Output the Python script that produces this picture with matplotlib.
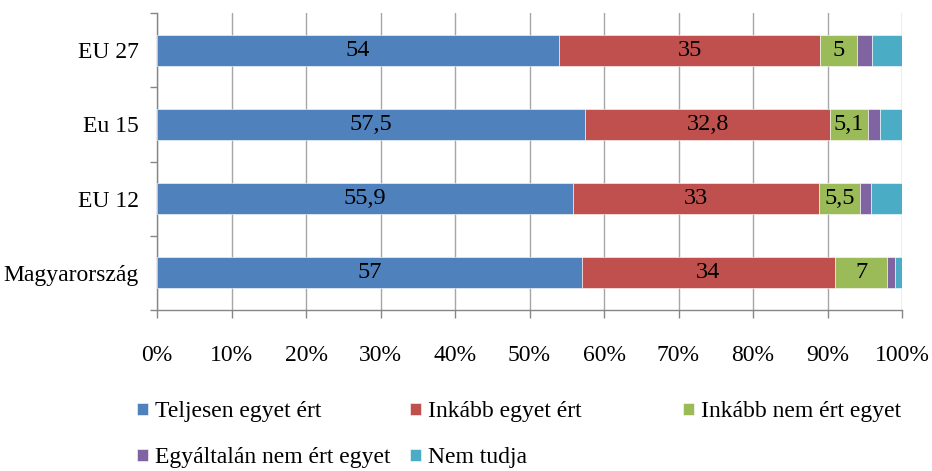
import numpy as np
import matplotlib.pyplot as plt

plt.rcParams['font.family'] = ['Liberation Serif', 'DejaVu Serif']

# Data
categories = ['EU 27', 'Eu 15', 'EU 12', 'Magyarország']
series = ['Teljesen egyet ért', 'Inkább egyet ért', 'Inkább nem ért egyet',
          'Egyáltalán nem ért egyet', 'Nem tudja']
teljesen = [54, 57.5, 55.9, 57]
inkabb = [35, 32.8, 33, 34]
inkabb_nem = [5, 5.1, 5.5, 7]
egyaltalan = [2, 1.6, 1.4, 1]
nem_tudja = [4, 3, 4.2, 1]
colors = ['#4F81BD', '#C0504D', '#9BBB59', '#8064A2', '#4BACC6']
labelled = [True, True, True, False, False]

values = [teljesen, inkabb, inkabb_nem, egyaltalan, nem_tudja]

fig = plt.figure(figsize=(9.32, 4.71), dpi=100)
ax = fig.add_axes([157 / 932, 1 - 310 / 471, 745 / 932, 297 / 471])

y = np.arange(len(categories))[::-1]
left = np.zeros(len(categories))
bars = []
for vals, col, name, lab in zip(values, colors, series, labelled):
    vals = np.array(vals, dtype=float)
    b = ax.barh(y, vals, left=left, height=0.42, color=col, edgecolor='white',
                linewidth=0.4, label=name, zorder=3)
    bars.append(b)
    if lab:
        for yi, l, v in zip(y, left, vals):
            txt = f"{v:g}".replace('.', ',')
            ax.text(l + v / 2, yi, txt, ha='center', va='center', fontsize=17.5, zorder=4)
    left += vals

ax.set_xlim(0, 100)
ax.set_ylim(-0.5, 3.5)
ax.set_xticks(np.arange(0, 101, 10))
ax.set_xticklabels([f"{t}%" for t in range(0, 101, 10)], fontsize=17)
ax.set_yticks(y)
ax.set_yticklabels(categories, fontsize=17)
ax.set_yticks(np.arange(-0.5, 3.6, 1), minor=True)
ax.tick_params(axis='y', which='major', length=0, pad=13)
ax.tick_params(axis='y', which='minor', length=5, color='#868686', width=1)
ax.tick_params(axis='x', length=6, color='#868686', width=1, pad=19)

ax.grid(axis='x', color='#A6A6A6', linewidth=1, zorder=0)
for s in ['top', 'right']:
    ax.spines[s].set_visible(False)
for s in ['left', 'bottom']:
    ax.spines[s].set_color('#868686')
    ax.spines[s].set_linewidth(1)

# legend placed entry by entry
leg_pos = [(137, 412), (410, 412), (683, 412), (137, 458), (410, 458)]
for b, name, (px, py) in zip(bars, series, leg_pos):
    fig.legend(handles=[b], labels=[name], loc='center left',
               bbox_to_anchor=(px / 932, 1 - py / 471), frameon=False,
               borderpad=0, borderaxespad=0, handlelength=0.45, handleheight=0.45,
               handletextpad=0.3, fontsize=17)

fig.savefig('out.png', dpi=100)
